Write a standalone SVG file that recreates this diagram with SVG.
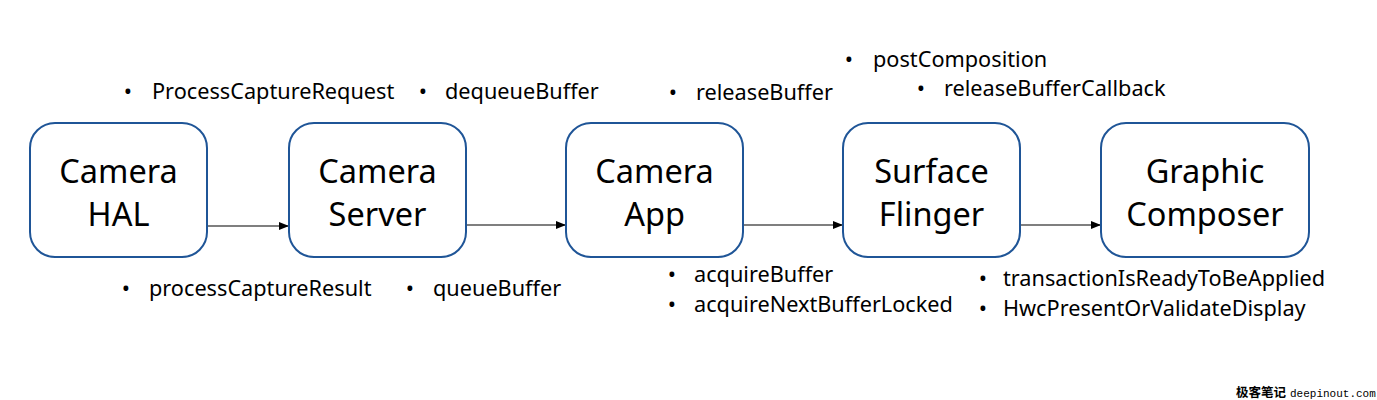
<svg xmlns="http://www.w3.org/2000/svg" width="1377" height="400" viewBox="0 0 1377 400">
<defs>
<marker id="arr" markerWidth="10" markerHeight="8" refX="10" refY="4" orient="auto" markerUnits="userSpaceOnUse">
<path d="M0,0 L10,4 L0,8 Z" fill="#000"/>
</marker>
</defs>
<style>
.box{fill:#fff;stroke:#1F5597;stroke-width:2}
.nt{font-family:"Noto Sans","Open Sans",sans-serif;font-size:32.5px;fill:#000;text-anchor:middle}
.lb{font-family:"Noto Sans","Open Sans",sans-serif;font-size:21.7px;fill:#000}
.bl{font-family:"Noto Sans","Open Sans",sans-serif;font-size:22px;fill:#000;text-anchor:middle}
.conn{stroke:#000;stroke-width:1.2;fill:none;marker-end:url(#arr)}
</style>
<rect width="1377" height="400" fill="#fff"/>
<g id="connectors">
<line class="conn" x1="207" y1="226" x2="289" y2="226"/>
<line class="conn" x1="466" y1="225" x2="566" y2="225"/>
<line class="conn" x1="743" y1="225" x2="843" y2="225"/>
<line class="conn" x1="1020" y1="225" x2="1101" y2="225"/>
</g>
<g id="camera-hal">
<rect class="box" x="30" y="123" width="177" height="134" rx="25"/>
<text class="nt" x="118.5" y="183">Camera</text>
<text class="nt" x="118.5" y="226">HAL</text>
</g>
<g id="camera-server">
<rect class="box" x="289" y="123" width="177" height="134" rx="25"/>
<text class="nt" x="377.5" y="183">Camera</text>
<text class="nt" x="377.5" y="226">Server</text>
</g>
<g id="camera-app">
<rect class="box" x="566" y="123" width="177" height="134" rx="25"/>
<text class="nt" x="654.5" y="183">Camera</text>
<text class="nt" x="654.5" y="226">App</text>
</g>
<g id="surface-flinger">
<rect class="box" x="843" y="123" width="177" height="134" rx="25"/>
<text class="nt" x="931.5" y="183">Surface</text>
<text class="nt" x="931.5" y="226">Flinger</text>
</g>
<g id="graphic-composer">
<rect class="box" x="1101" y="123" width="208" height="134" rx="25"/>
<text class="nt" x="1205" y="183">Graphic</text>
<text class="nt" x="1205" y="226">Composer</text>
</g>
<g id="labels">
<text class="bl" x="128" y="99">•</text><text class="lb" x="152" y="99">ProcessCaptureRequest</text>
<text class="bl" x="423" y="99">•</text><text class="lb" x="445" y="99">dequeueBuffer</text>
<text class="bl" x="673" y="100">•</text><text class="lb" x="696" y="100">releaseBuffer</text>
<text class="bl" x="849" y="67">•</text><text class="lb" x="873" y="67">postComposition</text>
<text class="bl" x="921" y="96">•</text><text class="lb" x="944" y="96">releaseBufferCallback</text>
<text class="bl" x="126" y="296">•</text><text class="lb" x="149" y="296">processCaptureResult</text>
<text class="bl" x="410" y="296">•</text><text class="lb" x="433" y="296">queueBuffer</text>
<text class="bl" x="672" y="282">•</text><text class="lb" x="694" y="282">acquireBuffer</text>
<text class="bl" x="672" y="312">•</text><text class="lb" x="694" y="312">acquireNextBufferLocked</text>
<text class="bl" x="983" y="286">•</text><text class="lb" x="1003" y="286">transactionIsReadyToBeApplied</text>
<text class="bl" x="983" y="316">•</text><text class="lb" x="1003" y="316">HwcPresentOrValidateDisplay</text>
</g>
<g id="watermark">
<text x="1236" y="397" font-family="'Noto Sans CJK SC',sans-serif" font-size="12.5" font-weight="bold" fill="#000">极客笔记</text>
<text x="1290" y="397" font-family="'Liberation Mono',monospace" font-size="11" fill="#000">deepinout.com</text>
</g>
</svg>
